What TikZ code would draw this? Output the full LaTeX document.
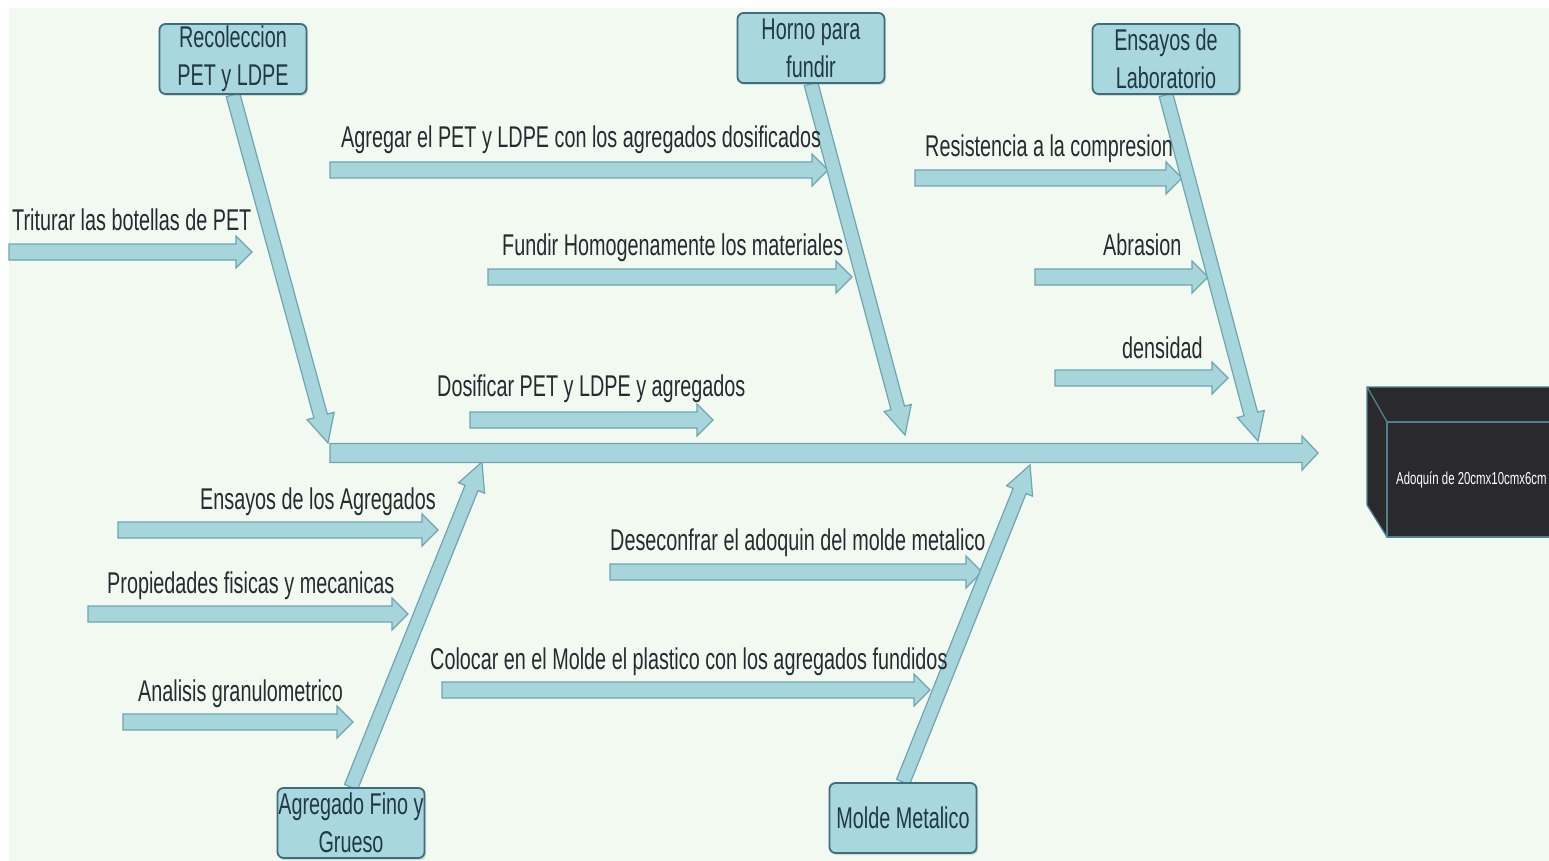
\documentclass[tikz,border=0pt]{standalone}
\usepackage{fontspec}
\setmainfont{Liberation Sans}[FakeStretch=0.66]
\usetikzlibrary{calc, shadows}
\definecolor{mint}{RGB}{241,249,241}
\definecolor{bonefill}{RGB}{166,214,220}
\definecolor{boneline}{RGB}{110,165,175}
\definecolor{causefill}{RGB}{168,216,222}
\definecolor{causeline}{RGB}{62,110,126}
\definecolor{causetext}{RGB}{34,56,70}
\definecolor{labeltext}{RGB}{36,44,50}
\definecolor{brick}{RGB}{42,42,45}
\definecolor{brickedge}{RGB}{78,128,144}

\pgfdeclarelayer{bg}
\pgfdeclarelayer{bones}
\pgfsetlayers{bg,bones,main}

% block arrow: from, to, half shaft, half head, head length
\newcommand{\blockarrow}[5]{%
  \path ($(#2)!#5!(#1)$) coordinate (hb);
  \draw[arrowbody] ($(#1)!#3!90:(#2)$) -- ($(hb)!#3!-90:(#1)$) -- ($(hb)!#4!-90:(#1)$)
    -- (#2) -- ($(hb)!#4!90:(#1)$) -- ($(hb)!#3!90:(#1)$) -- ($(#1)!#3!-90:(#2)$) -- cycle;
}

\begin{document}
\begin{tikzpicture}[
    x=1pt, y=-1pt,
    cause/.style={rectangle, rounded corners=6pt, minimum width=147pt, minimum height=70pt, inner sep=0pt, align=center, fill=causefill, draw=causeline, line width=1.8pt, drop shadow={shadow xshift=1.5pt, shadow yshift=-2pt, opacity=0.25}, text=causetext, font=\fontsize{30}{38}\selectfont},
    lbl/.style={inner sep=0pt, anchor=base west, text=labeltext, font=\fontsize{30}{34}\selectfont},
    arrowbody/.style={fill=bonefill, draw=boneline, line width=1.2pt, line join=miter},
]
\useasboundingbox (0,0) rectangle (1549,861);
\begin{pgfonlayer}{bg}
\fill[mint] (9,8) rectangle (1549,861);
\end{pgfonlayer}

% Cause boxes
\node[cause] (recol) at (233,59) {Recoleccion\\PET y LDPE};
\node[cause] (horno) at (811,48) {Horno para\\fundir};
\node[cause] (lab) at (1166,59) {Ensayos de\\Laboratorio};
\node[cause] (agreg) at (351,823) {Agregado Fino y\\Grueso};
\node[cause] (molde) at (903,818) {Molde Metalico};

% Step arrows
\coordinate (agr-a) at (330,170);  \coordinate (agr-b) at (828,170);
\coordinate (trit-a) at (9,252);   \coordinate (trit-b) at (252,252);
\coordinate (fund-a) at (488,277); \coordinate (fund-b) at (852,277);
\coordinate (res-a) at (915,178);  \coordinate (res-b) at (1182,178);
\coordinate (abr-a) at (1035,277); \coordinate (abr-b) at (1208,277);
\coordinate (den-a) at (1055,378); \coordinate (den-b) at (1228,378);
\coordinate (dos-a) at (470,420);  \coordinate (dos-b) at (713,420);
\coordinate (ens-a) at (118,530);  \coordinate (ens-b) at (438,530);
\coordinate (pro-a) at (88,614);   \coordinate (pro-b) at (408,614);
\coordinate (ana-a) at (123,722);  \coordinate (ana-b) at (353,722);
\coordinate (des-a) at (610,572);  \coordinate (des-b) at (982,572);
\coordinate (col-a) at (442,690);  \coordinate (col-b) at (930,690);

% Bones and spine
\coordinate (recol-t) at (328,443);
\coordinate (horno-t) at (905,435);
\coordinate (lab-t) at (1258,441);
\coordinate (agreg-t) at (482,462);
\coordinate (molde-t) at (1030,465);
\coordinate (spine-a) at (330,453);
\coordinate (spine-b) at (1318,453);

\begin{pgfonlayer}{bones}
\blockarrow{agr-a}{agr-b}{8pt}{16pt}{16pt}
\blockarrow{trit-a}{trit-b}{8pt}{16pt}{16pt}
\blockarrow{fund-a}{fund-b}{8pt}{16pt}{16pt}
\blockarrow{res-a}{res-b}{8pt}{16pt}{16pt}
\blockarrow{abr-a}{abr-b}{8pt}{16pt}{16pt}
\blockarrow{den-a}{den-b}{8pt}{16pt}{16pt}
\blockarrow{dos-a}{dos-b}{8pt}{16pt}{16pt}
\blockarrow{ens-a}{ens-b}{8pt}{16pt}{16pt}
\blockarrow{pro-a}{pro-b}{8pt}{16pt}{16pt}
\blockarrow{ana-a}{ana-b}{8pt}{16pt}{16pt}
\blockarrow{des-a}{des-b}{8pt}{16pt}{16pt}
\blockarrow{col-a}{col-b}{8pt}{16pt}{16pt}

\blockarrow{recol.south}{recol-t}{7pt}{14pt}{28pt}
\blockarrow{horno.south}{horno-t}{7pt}{14pt}{28pt}
\blockarrow{lab.south}{lab-t}{7pt}{14pt}{28pt}
\blockarrow{agreg.north}{agreg-t}{7pt}{14pt}{28pt}
\blockarrow{molde.north}{molde-t}{7pt}{14pt}{28pt}
\blockarrow{spine-a}{spine-b}{9.5pt}{17pt}{16pt}
\end{pgfonlayer}

% Labels
\node[lbl] (agr-l) at (341,148) {Agregar el PET y LDPE con los agregados dosificados};
\node[lbl] (trit-l) at (12,230) {Triturar las botellas de PET};
\node[lbl] (fund-l) at (502,255) {Fundir Homogenamente los materiales};
\node[lbl] (res-l) at (925,157) {Resistencia a la compresion};
\node[lbl] (abr-l) at (1103,255) {Abrasion};
\node[lbl] (den-l) at (1122,358) {densidad};
\node[lbl] (dos-l) at (437,396) {Dosificar PET y LDPE y agregados};
\node[lbl] (ens-l) at (200,509) {Ensayos de los Agregados};
\node[lbl] (pro-l) at (107,593) {Propiedades fisicas y mecanicas};
\node[lbl] (ana-l) at (138,701) {Analisis granulometrico};
\node[lbl] (des-l) at (610,550) {Deseconfrar el adoquin del molde metalico};
\node[lbl] (col-l) at (430,669) {Colocar en el Molde el plastico con los agregados fundidos};

% Product block
\begin{scope}[draw=brickedge, fill=brick, line width=1.2pt, line join=round]
\filldraw (1367,387) -- (1570,387) -- (1570,422) -- (1387,422) -- cycle;
\filldraw (1367,387) -- (1387,422) -- (1387,537) -- (1367,505) -- cycle;
\filldraw (1387,422) rectangle (1570,537);
\end{scope}
\node[anchor=base west, inner sep=0pt, text=white, font=\fontsize{17.3}{20}\selectfont] (adoquin) at (1396,484) {Adoquín de 20cmx10cmx6cm};

\end{tikzpicture}
\end{document}
